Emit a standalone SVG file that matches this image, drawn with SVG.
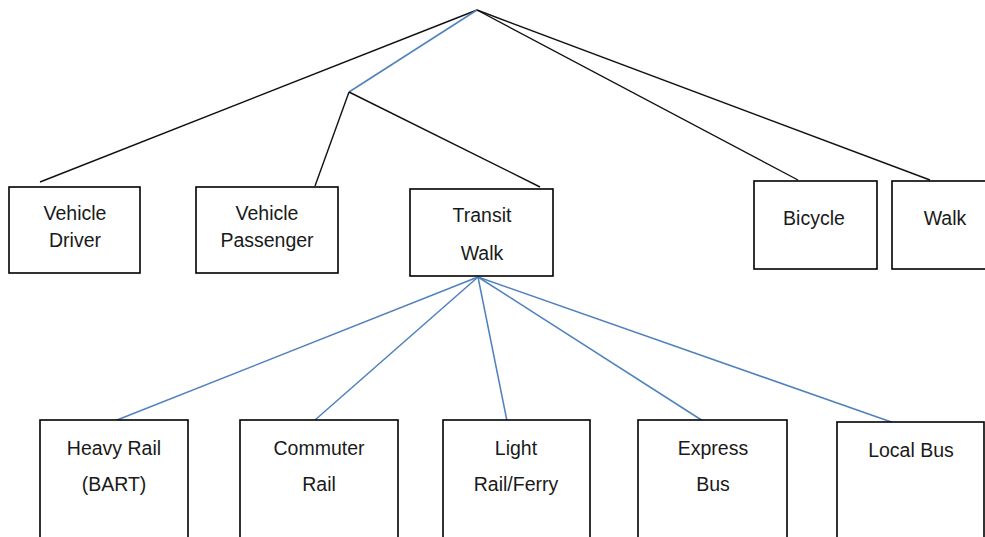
<svg xmlns="http://www.w3.org/2000/svg" width="985" height="537" viewBox="0 0 985 537">
<style>
.box{fill:#fff;stroke:#000;stroke-width:1.6}
.t{font-family:"Liberation Sans",Arial,sans-serif;font-size:19.5px;fill:#1a1a1a;text-anchor:middle}
.k{stroke:#111;stroke-width:1.4;fill:none}
.b{stroke:#4f81bd;stroke-width:1.5;fill:none}
</style>
<rect width="985" height="537" fill="#fff"/>
<g id="connectors">
<line class="k" x1="477" y1="10" x2="40" y2="182"/>
<line class="b" x1="477" y1="10" x2="349" y2="92"/>
<line class="k" x1="349" y1="92" x2="315" y2="186"/>
<line class="k" x1="349" y1="92" x2="540" y2="187"/>
<line class="k" x1="477" y1="10" x2="798" y2="180"/>
<line class="k" x1="477" y1="10" x2="930" y2="180"/>
<line class="b" x1="478" y1="277" x2="117" y2="420"/>
<line class="b" x1="478" y1="277" x2="315" y2="420"/>
<line class="b" x1="478" y1="277" x2="507" y2="421"/>
<line class="b" x1="478" y1="277" x2="703" y2="421"/>
<line class="b" x1="478" y1="277" x2="897" y2="424"/>
</g>
<g id="vehicle-driver"><rect class="box" x="9" y="187" width="131" height="86"/><text class="t" x="75" y="220">Vehicle</text><text class="t" x="75" y="247">Driver</text></g>
<g id="vehicle-passenger"><rect class="box" x="196" y="187" width="142" height="86"/><text class="t" x="267" y="220">Vehicle</text><text class="t" x="267" y="247">Passenger</text></g>
<g id="transit-walk"><rect class="box" x="410" y="189" width="143" height="87"/><text class="t" x="482" y="222">Transit</text><text class="t" x="482" y="260">Walk</text></g>
<g id="bicycle"><rect class="box" x="754" y="181" width="123" height="88"/><text class="t" x="814" y="225">Bicycle</text></g>
<g id="walk"><rect class="box" x="892" y="181" width="100" height="88"/><text class="t" x="945" y="225">Walk</text></g>
<g id="heavy-rail"><rect class="box" x="40" y="420" width="148" height="130"/><text class="t" x="114" y="455">Heavy Rail</text><text class="t" x="114" y="491">(BART)</text></g>
<g id="commuter-rail"><rect class="box" x="240" y="420" width="158" height="130"/><text class="t" x="319" y="455">Commuter</text><text class="t" x="319" y="491">Rail</text></g>
<g id="light-rail"><rect class="box" x="443" y="420" width="147" height="130"/><text class="t" x="516" y="455">Light</text><text class="t" x="516" y="491">Rail/Ferry</text></g>
<g id="express-bus"><rect class="box" x="638" y="420" width="149" height="130"/><text class="t" x="713" y="455">Express</text><text class="t" x="713" y="491">Bus</text></g>
<g id="local-bus"><rect class="box" x="837" y="422" width="147" height="130"/><text class="t" x="911" y="457">Local Bus</text></g>
</svg>
